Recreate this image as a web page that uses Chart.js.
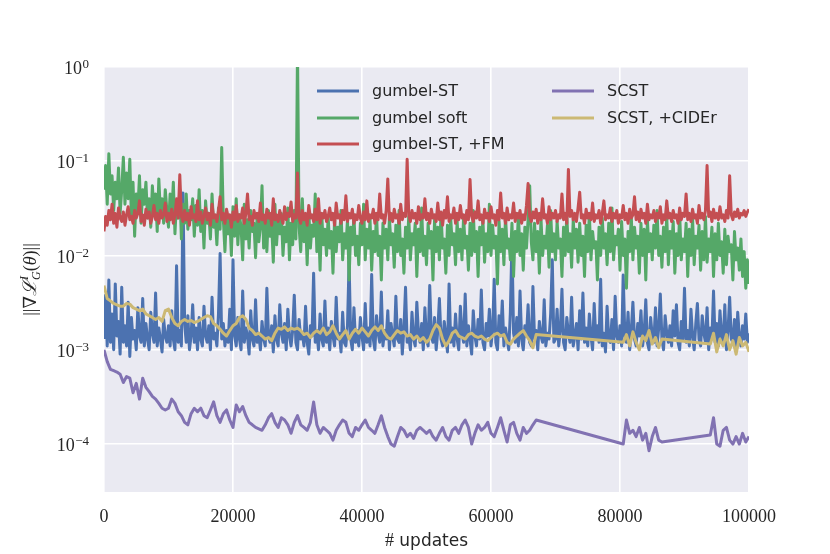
<!DOCTYPE html>
<html>
<head>
<meta charset="utf-8">
<title>Gradient norm</title>
<script src="https://cdn.jsdelivr.net/npm/chart.js@4.4.1/dist/chart.umd.min.js"></script>
<style>
  html, body { margin: 0; padding: 0; background: #fff; }
</style>
</head>
<body>
<canvas id="gradChart" width="830" height="554"></canvas>
<script>
// gumbel runs logged every 250 updates, SCST runs every 500
const gumbelUpdates = Array.from({ length: 401 }, (_, i) => i * 250);
const scstUpdates = Array.from({ length: 201 }, (_, i) => i * 500);
const xTickValues = [0, 20000, 40000, 60000, 80000, 100000];
const yTickValues = [1e-4, 1e-3, 1e-2, 1e-1, 1];
const yTickExponents = ['\u22124', '\u22123', '\u22122', '\u22121', '0'];
const seriesNames = ['gumbel-ST', 'gumbel soft', 'gumbel-ST, +FM', 'SCST', 'SCST, +CIDEr'];

const gumbelST = [
  1.3e-3, 3.8e-3, 1.1e-3, 5.5e-3, 1.2e-3, 2.4e-3, 1.0e-3, 5.0e-3, 1.4e-3, 2.0e-3, 0.9e-3, 4.6e-3, 1.2e-3, 1.8e-3, 1.1e-3, 3.2e-3, 0.85e-3, 2.2e-3, 1.3e-3, 1.6e-3,
  1.0e-3, 2.8e-3, 1.4e-3, 1.2e-3, 3.5e-3, 1.1e-3, 1.9e-3, 1.3e-3, 1.0e-3, 2.5e-3, 1.5e-3, 1.2e-3, 4.0e-3, 1.1e-3, 1.7e-3, 1.3e-3, 0.95e-3, 2.1e-3, 1.4e-3, 1.2e-3,
  1.8e-3, 1.1e-3, 2.6e-3, 1.3e-3, 1.0e-3, 7.8e-3, 1.2e-3, 1.6e-3, 1.1e-3, 4.6e-2, 1.9e-3, 1.2e-3, 2.3e-3, 1.0e-3, 1.4e-3, 3.0e-3, 1.2e-3, 1.7e-3, 1.0e-3, 2.2e-3,
  1.3e-3, 1.1e-3, 2.9e-3, 1.4e-3, 1.2e-3, 1.8e-3, 1.0e-3, 3.6e-3, 1.3e-3, 1.5e-3, 1.1e-3, 2.4e-3, 1.05e-2, 1.3e-3, 1.9e-3, 1.1e-3, 1.6e-3, 1.2e-3, 2.7e-3, 1.0e-3,
  9.0e-3, 1.4e-3, 1.1e-3, 2.2e-3, 1.3e-3, 1.0e-3, 4.2e-3, 1.2e-3, 1.7e-3, 1.4e-3, 0.9e-3, 2.6e-3, 1.3e-3, 1.1e-3, 3.4e-3, 1.2e-3, 1.5e-3, 1.0e-3, 2.0e-3, 1.3e-3,
  1.1e-3, 4.5e-3, 1.4e-3, 1.2e-3, 1.8e-3, 0.95e-3, 2.3e-3, 1.3e-3, 1.1e-3, 3.0e-3, 1.5e-3, 1.2e-3, 1.9e-3, 1.0e-3, 2.7e-3, 1.4e-3, 1.1e-3, 1.6e-3, 3.8e-3, 1.2e-3,
  1.0e-3, 2.1e-3, 1.3e-3, 1.5e-3, 1.1e-3, 2.9e-3, 1.2e-3, 0.9e-3, 1.8e-3, 1.4e-3, 6.5e-3, 1.2e-3, 1.6e-3, 1.0e-3, 2.4e-3, 1.3e-3, 1.1e-3, 3.3e-3, 1.2e-3, 1.7e-3,
  1.0e-3, 2.0e-3, 1.4e-3, 1.1e-3, 3.6e-3, 1.3e-3, 1.5e-3, 0.95e-3, 2.5e-3, 1.2e-3, 1.1e-3, 1.8e-3, 8.6e-3, 1.3e-3, 1.0e-3, 2.8e-3, 1.2e-3, 1.6e-3, 1.1e-3, 2.2e-3,
  1.4e-3, 1.0e-3, 3.1e-3, 1.2e-3, 1.7e-3, 1.1e-3, 6.3e-3, 1.3e-3, 1.0e-3, 2.3e-3, 1.5e-3, 1.2e-3, 4.1e-3, 1.1e-3, 1.6e-3, 1.3e-3, 2.6e-3, 1.0e-3, 1.9e-3, 1.4e-3,
  1.1e-3, 3.7e-3, 1.3e-3, 1.2e-3, 2.1e-3, 0.9e-3, 1.7e-3, 4.6e-3, 1.2e-3, 1.4e-3, 1.0e-3, 2.5e-3, 1.3e-3, 1.1e-3, 3.2e-3, 1.5e-3, 1.2e-3, 1.9e-3, 1.0e-3, 2.8e-3,
  1.3e-3, 1.1e-3, 4.8e-3, 1.4e-3, 1.2e-3, 2.2e-3, 1.0e-3, 1.6e-3, 3.5e-3, 1.3e-3, 1.1e-3, 2.0e-3, 1.4e-3, 0.95e-3, 5.0e-3, 1.2e-3, 1.7e-3, 1.1e-3, 2.4e-3, 1.3e-3,
  1.0e-3, 2.9e-3, 1.5e-3, 1.2e-3, 3.9e-3, 1.1e-3, 1.8e-3, 1.3e-3, 0.9e-3, 2.6e-3, 1.4e-3, 1.1e-3, 2.1e-3, 1.3e-3, 4.3e-3, 1.2e-3, 1.0e-3, 1.9e-3, 1.4e-3, 2.7e-3,
  1.1e-3, 1.6e-3, 5.6e-3, 1.2e-3, 1.0e-3, 2.3e-3, 1.4e-3, 3.3e-3, 1.1e-3, 1.7e-3, 1.3e-3, 1.0e-3, 2.5e-3, 1.4e-2, 1.5e-3, 1.2e-3, 2.2e-3, 1.1e-3, 4.2e-3, 1.3e-3,
  1.0e-3, 1.8e-3, 1.4e-3, 3.0e-3, 1.2e-3, 1.1e-3, 4.7e-3, 1.3e-3, 1.6e-3, 1.0e-3, 2.0e-3, 1.4e-3, 1.2e-3, 3.4e-3, 1.1e-3, 1.5e-3, 1.3e-3, 2.4e-3, 9.0e-3, 1.2e-3,
  1.3e-3, 2.7e-3, 1.1e-3, 1.6e-3, 4.4e-3, 1.2e-3, 1.0e-3, 2.2e-3, 1.5e-3, 1.2e-3, 3.6e-3, 1.1e-3, 1.4e-3, 1.9e-3, 1.0e-3, 2.6e-3, 1.3e-3, 4.0e-3, 1.2e-3, 1.7e-3,
  1.1e-3, 2.4e-3, 1.4e-3, 1.0e-3, 3.1e-3, 1.3e-3, 1.8e-3, 1.2e-3, 5.6e-3, 1.1e-3, 1.5e-3, 0.95e-3, 2.9e-3, 1.3e-3, 1.2e-3, 2.1e-3, 1.0e-3, 3.7e-3, 1.4e-3, 1.2e-3,
  1.8e-3, 1.1e-3, 6.2e-3, 1.4e-3, 1.2e-3, 2.5e-3, 1.0e-3, 1.6e-3, 3.2e-3, 1.3e-3, 1.1e-3, 1.9e-3, 1.4e-3, 2.6e-3, 1.1e-3, 1.5e-3, 3.4e-3, 1.2e-3, 1.0e-3, 2.2e-3,
  1.4e-3, 1.2e-3, 2.8e-3, 1.1e-3, 1.7e-3, 3.9e-3, 1.3e-3, 1.0e-3, 2.3e-3, 1.5e-3, 1.2e-3, 1.8e-3, 1.1e-3, 2.6e-3, 1.4e-3, 3.0e-3, 1.2e-3, 1.0e-3, 2.0e-3, 1.3e-3,
  4.5e-3, 1.2e-3, 1.6e-3, 1.1e-3, 2.7e-3, 1.4e-3, 1.0e-3, 1.9e-3, 3.1e-3, 1.3e-3, 1.1e-3, 2.3e-3, 1.5e-3, 1.2e-3, 2.8e-3, 1.0e-3, 1.7e-3, 1.3e-3, 4.2e-3, 1.2e-3,
  1.9e-3, 1.1e-3, 2.6e-3, 1.4e-3, 1.2e-3, 3.0e-3, 1.0e-3, 1.6e-3, 3.6e-3, 1.3e-3, 1.2e-3, 2.1e-3, 1.0e-3, 2.5e-3, 1.4e-3, 1.1e-3, 1.8e-3, 1.3e-3, 2.4e-3, 1.2e-3,
  1.5e-3
];

const gumbelSoft = [
  0.05, 0.09, 0.035, 0.12, 0.045, 0.07, 0.03, 0.06, 0.04, 0.085, 0.028, 0.05, 0.11, 0.035, 0.075, 0.04, 0.105, 0.025, 0.06, 0.016,
  0.045, 0.03, 0.07, 0.022, 0.05, 0.035, 0.06, 0.025, 0.04, 0.02, 0.055, 0.03, 0.045, 0.018, 0.065, 0.028, 0.04, 0.022, 0.05, 0.03,
  0.02, 0.045, 0.026, 0.06, 0.017, 0.038, 0.025, 0.05, 0.015, 0.035, 0.022, 0.045, 0.019, 0.03, 0.024, 0.04, 0.016, 0.034, 0.021, 0.05,
  0.018, 0.03, 0.012, 0.038, 0.022, 0.028, 0.015, 0.045, 0.02, 0.026, 0.013, 0.032, 0.019, 0.14, 0.024, 0.011, 0.03, 0.017, 0.025, 0.01,
  0.033, 0.016, 0.04, 0.013, 0.027, 0.02, 0.009, 0.035, 0.015, 0.024, 0.012, 0.03, 0.018, 0.022, 0.0095, 0.028, 0.014, 0.02, 0.055, 0.012,
  0.026, 0.011, 0.03, 0.016, 0.021, 0.0085, 0.035, 0.013, 0.024, 0.017, 0.028, 0.01, 0.02, 0.014, 0.032, 0.009, 0.022, 0.013, 0.03, 0.015,
  1.5, 0.02, 0.011, 0.04, 0.014, 0.025, 0.008, 0.03, 0.012, 0.021, 0.016, 0.045, 0.011, 0.024, 0.007, 0.028, 0.013, 0.019, 0.01, 0.026,
  0.012, 0.018, 0.0065, 0.025, 0.011, 0.02, 0.014, 0.03, 0.009, 0.017, 0.012, 0.024, 0.0055, 0.02, 0.013, 0.027, 0.01, 0.016, 0.008, 0.022,
  0.013, 0.035, 0.009, 0.019, 0.012, 0.024, 0.007, 0.018, 0.011, 0.028, 0.01, 0.016, 0.0055, 0.022, 0.012, 0.019, 0.009, 0.025, 0.013, 0.017,
  0.0075, 0.021, 0.011, 0.03, 0.01, 0.015, 0.0065, 0.02, 0.012, 0.026, 0.009, 0.017, 0.013, 0.022, 0.006, 0.019, 0.011, 0.032, 0.01, 0.016,
  0.008, 0.022, 0.012, 0.018, 0.0055, 0.024, 0.011, 0.02, 0.009, 0.028, 0.012, 0.015, 0.0065, 0.021, 0.01, 0.025, 0.013, 0.017, 0.008, 0.023,
  0.011, 0.019, 0.009, 0.026, 0.012, 0.016, 0.007, 0.022, 0.01, 0.03, 0.011, 0.018, 0.006, 0.02, 0.013, 0.024, 0.0085, 0.017, 0.011, 0.035,
  0.01, 0.021, 0.012, 0.016, 0.005, 0.023, 0.011, 0.019, 0.008, 0.026, 0.012, 0.015, 0.009, 0.022, 0.006, 0.018, 0.011, 0.028, 0.01, 0.017,
  0.007, 0.02, 0.012, 0.024, 0.055, 0.014, 0.009, 0.022, 0.011, 0.018, 0.0065, 0.025, 0.01, 0.016, 0.012, 0.021, 0.0075, 0.03, 0.011, 0.017,
  0.009, 0.023, 0.012, 0.015, 0.006, 0.02, 0.01, 0.027, 0.011, 0.017, 0.0075, 0.024, 0.012, 0.019, 0.0085, 0.022, 0.01, 0.016, 0.006, 0.021,
  0.011, 0.028, 0.009, 0.018, 0.012, 0.014, 0.0055, 0.02, 0.01, 0.025, 0.012, 0.017, 0.008, 0.022, 0.011, 0.032, 0.009, 0.016, 0.013, 0.019,
  0.007, 0.023, 0.01, 0.015, 0.0045, 0.018, 0.011, 0.026, 0.009, 0.02, 0.012, 0.016, 0.0065, 0.022, 0.01, 0.019, 0.0055, 0.024, 0.011, 0.017,
  0.009, 0.021, 0.012, 0.03, 0.01, 0.016, 0.0075, 0.02, 0.011, 0.026, 0.008, 0.018, 0.012, 0.023, 0.0065, 0.017, 0.01, 0.028, 0.009, 0.015,
  0.011, 0.022, 0.006, 0.019, 0.01, 0.025, 0.008, 0.016, 0.012, 0.021, 0.007, 0.018, 0.009, 0.026, 0.0085, 0.015, 0.011, 0.02, 0.006, 0.017,
  0.009, 0.022, 0.01, 0.014, 0.0065, 0.019, 0.008, 0.016, 0.011, 0.013, 0.0055, 0.018, 0.009, 0.012, 0.007, 0.015, 0.006, 0.011, 0.0045, 0.009,
  0.005
];

const gumbelSTFM = [
  0.018, 0.026, 0.021, 0.03, 0.024, 0.035, 0.022, 0.028, 0.02, 0.032, 0.025, 0.023, 0.029, 0.021, 0.027, 0.033, 0.024, 0.026, 0.022, 0.03,
  0.025, 0.028, 0.038, 0.023, 0.027, 0.021, 0.031, 0.025, 0.029, 0.022, 0.026, 0.034, 0.024, 0.028, 0.022, 0.03, 0.025, 0.027, 0.036, 0.023,
  0.028, 0.024, 0.031, 0.022, 0.027, 0.04, 0.025, 0.072, 0.026, 0.023, 0.03, 0.024, 0.028, 0.021, 0.033, 0.025, 0.027, 0.023, 0.038, 0.024,
  0.029, 0.022, 0.026, 0.032, 0.024, 0.028, 0.021, 0.035, 0.025, 0.027, 0.023, 0.03, 0.042, 0.024, 0.028, 0.022, 0.031, 0.025, 0.027, 0.02,
  0.029, 0.024, 0.034, 0.023, 0.027, 0.025, 0.032, 0.022, 0.028, 0.045, 0.024, 0.026, 0.021, 0.03, 0.025, 0.028, 0.023, 0.036, 0.024, 0.027,
  0.022, 0.031, 0.025, 0.028, 0.021, 0.04, 0.024, 0.027, 0.023, 0.03, 0.025, 0.022, 0.033, 0.024, 0.028, 0.026, 0.037, 0.023, 0.027, 0.025,
  0.075, 0.025, 0.022, 0.03, 0.024, 0.028, 0.021, 0.034, 0.025, 0.027, 0.023, 0.031, 0.024, 0.04, 0.022, 0.028, 0.025, 0.03, 0.023, 0.026,
  0.032, 0.024, 0.028, 0.021, 0.036, 0.025, 0.027, 0.022, 0.03, 0.024, 0.043, 0.023, 0.028, 0.025, 0.031, 0.022, 0.027, 0.024, 0.034, 0.025,
  0.022, 0.029, 0.024, 0.038, 0.023, 0.027, 0.025, 0.031, 0.022, 0.028, 0.024, 0.045, 0.025, 0.027, 0.022, 0.03, 0.065, 0.024, 0.028, 0.023,
  0.031, 0.025, 0.027, 0.022, 0.035, 0.024, 0.028, 0.026, 0.105, 0.027, 0.023, 0.03, 0.025, 0.028, 0.022, 0.033, 0.024, 0.027, 0.025, 0.04,
  0.024, 0.028, 0.022, 0.031, 0.025, 0.027, 0.023, 0.036, 0.024, 0.029, 0.021, 0.03, 0.025, 0.042, 0.023, 0.027, 0.025, 0.032, 0.022, 0.028,
  0.024, 0.034, 0.025, 0.027, 0.022, 0.03, 0.024, 0.064, 0.026, 0.023, 0.029, 0.025, 0.038, 0.024, 0.027, 0.022, 0.031, 0.025, 0.028, 0.023,
  0.033, 0.025, 0.027, 0.021, 0.03, 0.024, 0.046, 0.025, 0.028, 0.022, 0.032, 0.024, 0.027, 0.025, 0.036, 0.023, 0.028, 0.025, 0.03, 0.022,
  0.027, 0.024, 0.034, 0.058, 0.026, 0.023, 0.029, 0.025, 0.031, 0.022, 0.028, 0.024, 0.04, 0.025, 0.027, 0.022, 0.033, 0.024, 0.028, 0.025,
  0.03, 0.023, 0.027, 0.025, 0.045, 0.024, 0.028, 0.022, 0.082, 0.026, 0.03, 0.024, 0.028, 0.023, 0.032, 0.047, 0.025, 0.027, 0.022, 0.031,
  0.025, 0.028, 0.024, 0.036, 0.023, 0.027, 0.025, 0.03, 0.022, 0.028, 0.038, 0.024, 0.027, 0.025, 0.032, 0.023, 0.028, 0.025, 0.03, 0.022,
  0.027, 0.025, 0.034, 0.024, 0.028, 0.022, 0.031, 0.025, 0.027, 0.042, 0.024, 0.029, 0.023, 0.031, 0.025, 0.028, 0.022, 0.035, 0.024, 0.027,
  0.025, 0.03, 0.023, 0.028, 0.025, 0.033, 0.022, 0.027, 0.024, 0.038, 0.025, 0.028, 0.023, 0.03, 0.025, 0.027, 0.022, 0.032, 0.024, 0.028,
  0.026, 0.045, 0.024, 0.028, 0.023, 0.031, 0.025, 0.027, 0.022, 0.034, 0.025, 0.028, 0.024, 0.03, 0.09, 0.026, 0.029, 0.023, 0.031, 0.025,
  0.028, 0.024, 0.033, 0.025, 0.027, 0.023, 0.03, 0.025, 0.07, 0.027, 0.024, 0.029, 0.026, 0.031, 0.025, 0.028, 0.027, 0.03, 0.026, 0.029,
  0.031
];

// SCST runs were not logged between ~67k-80k and ~87k-94k updates (null = no value)
const scst = [
  1.0e-3, 7.5e-4, 6.2e-4, 6.0e-4, 5.8e-4, 5.5e-4, 4.5e-4, 5.2e-4, 5.0e-4, 3.5e-4,
  4.4e-4, 3.0e-4, 5.0e-4, 4.0e-4, 3.6e-4, 3.2e-4, 3.0e-4, 2.7e-4, 2.4e-4, 2.3e-4,
  2.4e-4, 3.0e-4, 2.7e-4, 2.2e-4, 2.0e-4, 1.7e-4, 1.6e-4, 2.1e-4, 2.4e-4, 2.2e-4,
  2.4e-4, 2.0e-4, 1.9e-4, 2.3e-4, 2.8e-4, 2.0e-4, 1.7e-4, 2.1e-4, 2.3e-4, 1.8e-4,
  1.5e-4, 2.6e-4, 2.2e-4, 2.5e-4, 2.0e-4, 1.7e-4, 1.6e-4, 1.5e-4, 1.45e-4, 1.4e-4,
  1.6e-4, 1.9e-4, 2.1e-4, 1.7e-4, 1.5e-4, 1.9e-4, 1.8e-4, 1.6e-4, 1.3e-4, 1.7e-4,
  2.0e-4, 1.6e-4, 1.5e-4, 1.4e-4, 1.7e-4, 2.8e-4, 1.6e-4, 1.3e-4, 1.5e-4, 1.4e-4,
  1.3e-4, 1.1e-4, 1.4e-4, 1.6e-4, 1.8e-4, 1.7e-4, 1.3e-4, 1.2e-4, 1.5e-4, 1.4e-4,
  1.6e-4, 1.8e-4, 1.5e-4, 1.4e-4, 1.3e-4, 1.6e-4, 2.0e-4, 1.5e-4, 1.2e-4, 1.0e-4,
  0.95e-4, 1.2e-4, 1.5e-4, 1.4e-4, 1.2e-4, 1.3e-4, 1.15e-4, 1.4e-4, 1.5e-4, 1.4e-4,
  1.3e-4, 1.4e-4, 1.2e-4, 1.1e-4, 1.3e-4, 1.5e-4, 1.2e-4, 1.1e-4, 1.4e-4, 1.5e-4,
  1.3e-4, 1.6e-4, 1.8e-4, 1.5e-4, 1.0e-4, 1.3e-4, 1.6e-4, 1.4e-4, 1.5e-4, 1.7e-4,
  1.3e-4, 1.2e-4, 1.5e-4, 1.9e-4, 1.4e-4, 1.05e-4, 1.6e-4, 1.7e-4, 1.3e-4, 1.1e-4,
  1.5e-4, 1.3e-4, 1.4e-4, 1.6e-4, 1.8e-4, null, null, null, null, null,
  null, null, null, null, null, null, null, null, null, null,
  null, null, null, null, null, null, null, null, null, null,
  null, 1.0e-4, 1.8e-4, 1.3e-4, 1.4e-4, 1.2e-4, 1.5e-4, 1.1e-4, 1.3e-4, 0.85e-4,
  1.2e-4, 1.5e-4, 1.1e-4, 1.05e-4, null, null, null, null, null, null,
  null, null, null, null, null, null, null, null, 1.25e-4, 1.9e-4,
  1.0e-4, 0.95e-4, 1.4e-4, 1.5e-4, 1.1e-4, 1.0e-4, 1.2e-4, 1.0e-4, 1.3e-4, 1.05e-4,
  1.2e-4
];

const scstCider = [
  4.8e-3, 3.5e-3, 3.3e-3, 3.1e-3, 3.0e-3, 2.9e-3, 2.9e-3, 3.1e-3, 3.05e-3, 2.8e-3,
  2.7e-3, 2.6e-3, 2.7e-3, 2.4e-3, 2.3e-3, 2.2e-3, 2.1e-3, 2.2e-3, 2.0e-3, 2.6e-3,
  2.7e-3, 2.2e-3, 1.9e-3, 1.8e-3, 2.0e-3, 2.1e-3, 2.0e-3, 2.05e-3, 1.95e-3, 2.0e-3,
  2.1e-3, 2.2e-3, 2.3e-3, 2.25e-3, 1.9e-3, 1.8e-3, 1.65e-3, 1.5e-3, 1.4e-3, 1.6e-3,
  1.8e-3, 1.9e-3, 2.2e-3, 2.3e-3, 2.1e-3, 1.7e-3, 1.6e-3, 1.45e-3, 1.5e-3, 1.4e-3,
  1.3e-3, 1.35e-3, 1.25e-3, 1.5e-3, 1.7e-3, 1.65e-3, 1.75e-3, 1.6e-3, 1.7e-3, 1.65e-3,
  1.7e-3, 1.6e-3, 1.45e-3, 1.5e-3, 1.35e-3, 1.5e-3, 1.6e-3, 1.5e-3, 1.7e-3, 1.45e-3,
  1.55e-3, 1.8e-3, 1.5e-3, 1.3e-3, 1.45e-3, 1.6e-3, 1.3e-3, 1.5e-3, 1.65e-3, 1.5e-3,
  1.7e-3, 1.55e-3, 1.4e-3, 1.6e-3, 1.75e-3, 1.6e-3, 1.8e-3, 1.5e-3, 1.35e-3, 1.3e-3,
  1.45e-3, 1.6e-3, 1.5e-3, 1.55e-3, 1.4e-3, 1.45e-3, 1.3e-3, 1.4e-3, 1.25e-3, 1.35e-3,
  1.2e-3, 1.3e-3, 1.6e-3, 1.85e-3, 1.7e-3, 1.3e-3, 1.1e-3, 1.25e-3, 1.5e-3, 1.6e-3,
  1.4e-3, 1.35e-3, 1.3e-3, 1.45e-3, 1.5e-3, 1.4e-3, 1.35e-3, 1.4e-3, 1.3e-3, 1.25e-3,
  1.35e-3, 1.45e-3, 1.5e-3, 1.4e-3, 1.45e-3, 1.2e-3, 1.15e-3, 1.3e-3, 1.4e-3, 1.5e-3,
  1.6e-3, 1.4e-3, 1.25e-3, 1.05e-3, 1.45e-3, null, null, null, null, null,
  null, null, null, null, null, null, null, null, null, null,
  null, null, null, null, null, null, null, null, null, null,
  null, 1.2e-3, 1.45e-3, 1.1e-3, 1.55e-3, 1.2e-3, 1.0e-3, 1.4e-3, 1.25e-3, 1.6e-3,
  1.15e-3, 1.35e-3, 1.05e-3, 1.3e-3, null, null, null, null, null, null,
  null, null, null, null, null, null, null, null, 1.15e-3, 1.5e-3,
  0.95e-3, 1.3e-3, 1.1e-3, 1.45e-3, 1.0e-3, 1.25e-3, 0.9e-3, 1.35e-3, 1.1e-3, 1.2e-3,
  0.95e-3
];

function toPoints(values, steps) {
  return values.map(function(v, i) { return { x: steps[i], y: v }; });
}

var lineDefaults = {
  borderWidth: 3,
  pointRadius: 0,
  fill: false,
  tension: 0,
  spanGaps: true,
  clip: 0,
  borderJoinStyle: 'round',
  borderCapStyle: 'butt'
};

var datasets = [
  { label: seriesNames[0], data: toPoints(gumbelST, gumbelUpdates), borderColor: '#4C72B0', order: 5 },
  { label: seriesNames[1], data: toPoints(gumbelSoft, gumbelUpdates), borderColor: '#55A868', order: 4 },
  { label: seriesNames[2], data: toPoints(gumbelSTFM, gumbelUpdates), borderColor: '#C44E52', order: 3 },
  { label: seriesNames[3], data: toPoints(scst, scstUpdates), borderColor: '#8172B2', order: 2 },
  { label: seriesNames[4], data: toPoints(scstCider, scstUpdates), borderColor: '#CCB974', order: 1 }
].map(function(d) { return Object.assign({}, lineDefaults, d); });

var SERIF = '"Liberation Serif", "DejaVu Serif", serif';
var SANS = '"DejaVu Sans", sans-serif';
var TEXT = '#262626';

// draw a run of text pieces (mixed fonts, raised/lowered) centred on cx
function drawRuns(ctx, runs, cx, baseY) {
  var total = 0;
  runs.forEach(function(r) {
    ctx.font = r.font;
    r.w = ctx.measureText(r.text).width;
    if (!r.stack) total += r.w;
  });
  var x = cx - total / 2;
  ctx.textAlign = 'left';
  ctx.textBaseline = 'alphabetic';
  runs.forEach(function(r) {
    ctx.font = r.font;
    ctx.fillText(r.text, x, baseY + (r.dy || 0));
    if (!r.stack) x += r.w;
  });
}

var backdrop = {
  id: 'backdrop',
  beforeDraw: function(chart) {
    var a = chart.chartArea, ctx = chart.ctx;
    ctx.save();
    ctx.fillStyle = '#EAEAF2';
    ctx.fillRect(a.left, a.top, a.right - a.left, a.bottom - a.top);
    ctx.restore();
  }
};

var annotations = {
  id: 'annotations',
  afterDraw: function(chart) {
    var ctx = chart.ctx, a = chart.chartArea;
    var yScale = chart.scales.y;
    ctx.save();
    ctx.fillStyle = TEXT;

    // y tick labels as 10^k
    yTickValues.forEach(function(v, i) {
      var y = yScale.getPixelForValue(v);
      var right = a.left - 15;
      ctx.textAlign = 'right';
      ctx.textBaseline = 'alphabetic';
      ctx.font = '13px ' + SERIF;
      var ew = ctx.measureText(yTickExponents[i]).width;
      ctx.fillText(yTickExponents[i], right, y + 1);
      ctx.font = '18px ' + SERIF;
      ctx.fillText('10', right - ew - 0.5, y + 7);
    });

    // x axis title
    drawRuns(ctx, [
      { text: '#', font: '18px ' + SERIF },
      { text: ' updates', font: '17px ' + SANS }
    ], (a.left + a.right) / 2, 546);

    // y axis title
    ctx.save();
    ctx.translate(30, (a.top + a.bottom) / 2);
    ctx.rotate(-Math.PI / 2);
    drawRuns(ctx, [
      { text: '||\u2207', font: '18px ' + SERIF },
      { text: '\u2112', font: 'italic 19px "DejaVu Serif", serif' },
      { text: 'I', font: 'italic 12px ' + SERIF, dy: -8, stack: true },
      { text: 'G', font: 'italic 12px ' + SERIF, dy: 4 },
      { text: '(', font: '18px ' + SERIF },
      { text: '\u03B8', font: 'italic 18px ' + SERIF },
      { text: ')||', font: '18px ' + SERIF }
    ], 0, 6);
    ctx.restore();

    // legend, two columns
    var slots = [[317, 91], [317, 118], [317, 144], [552, 91], [552, 118]];
    chart.data.datasets.forEach(function(ds, i) {
      var s = slots[i];
      ctx.strokeStyle = ds.borderColor;
      ctx.lineWidth = 3;
      ctx.beginPath();
      ctx.moveTo(s[0], s[1]);
      ctx.lineTo(s[0] + 42, s[1]);
      ctx.stroke();
      ctx.fillStyle = TEXT;
      ctx.font = '16px ' + SANS;
      ctx.textAlign = 'left';
      ctx.textBaseline = 'middle';
      ctx.fillText(ds.label, s[0] + 55, s[1] + 1);
    });
    ctx.restore();
  }
};

new Chart(document.getElementById('gradChart').getContext('2d'), {
  type: 'line',
  data: { datasets: datasets },
  options: {
    responsive: false,
    animation: false,
    layout: { padding: { top: 67, right: 81, bottom: 0, left: 0 } },
    plugins: {
      legend: { display: false },
      tooltip: { enabled: false }
    },
    scales: {
      x: {
        type: 'linear',
        min: 0,
        max: 100000,
        afterBuildTicks: function(scale) {
          scale.ticks = xTickValues.map(function(v) { return { value: v }; });
        },
        afterFit: function(scale) { scale.height = 62; },
        grid: { color: '#ffffff', lineWidth: 1.6, drawTicks: false },
        border: { display: false },
        ticks: {
          padding: 14,
          color: TEXT,
          maxRotation: 0,
          font: { family: 'Liberation Serif', size: 18 },
          callback: function(v) { return String(v); }
        }
      },
      y: {
        type: 'logarithmic',
        min: 3.1e-5,
        max: 1,
        afterBuildTicks: function(scale) {
          scale.ticks = yTickValues.map(function(v) { return { value: v }; });
        },
        afterFit: function(scale) { scale.width = 104; },
        grid: { color: '#ffffff', lineWidth: 1.6, drawTicks: false },
        border: { display: false },
        ticks: { display: false }
      }
    }
  },
  plugins: [backdrop, annotations]
});
</script>
</body>
</html>
